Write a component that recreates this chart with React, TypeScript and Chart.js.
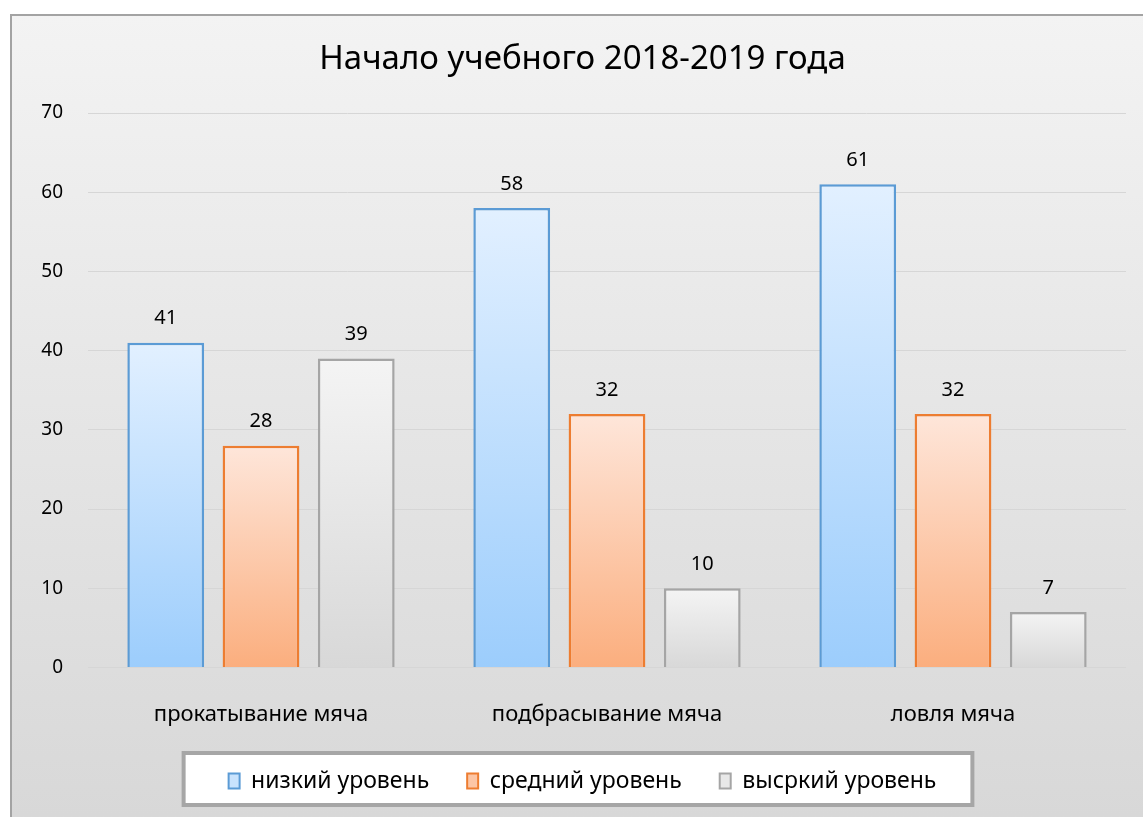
import React, { useEffect, useRef } from "react";
import { Chart, registerables } from "chart.js";

Chart.register(...registerables);

const titleText = "Начало учебного 2018-2019 года";
const categories = ["прокатывание мяча", "подбрасывание мяча", "ловля мяча"];
const seriesNames = ["низкий уровень", "средний уровень", "высркий уровень"];
const lowLevel = [41, 58, 61];
const midLevel = [28, 32, 32];
const highLevel = [39, 10, 7];
const yMin = 0;
const yMax = 70;
const yStep = 10;

const FONT = "'Noto Sans', 'Open Sans', sans-serif";

function barGradient(top: string, bottom: string, flat: string) {
  return (ctx: any) => {
    const chart = ctx.chart;
    const y = chart.scales && chart.scales.y;
    if (!y || ctx.type !== "data") return flat;
    const v = ctx.raw;
    const yTop = y.getPixelForValue(v);
    const yBase = y.getPixelForValue(0);
    if (!isFinite(yTop) || !isFinite(yBase)) return flat;
    const g = chart.ctx.createLinearGradient(0, yTop, 0, yBase);
    g.addColorStop(0, top);
    g.addColorStop(1, bottom);
    return g;
  };
}

const frameFill = {
  id: "frameFill",
  beforeDraw(chart: any) {
    const { ctx, width, height } = chart;
    ctx.save();
    ctx.fillStyle = "#ffffff";
    ctx.fillRect(0, 0, width, height);
    const g = ctx.createLinearGradient(0, 14, 0, height);
    g.addColorStop(0, "#f3f3f3");
    g.addColorStop(1, "#d8d8d8");
    ctx.fillStyle = g;
    ctx.fillRect(11, 15, width, height);
    ctx.strokeStyle = "#a3a3a3";
    ctx.lineWidth = 2;
    ctx.strokeRect(11, 15, width + 10, height + 10);
    // legend box
    const lg = chart.legend;
    if (lg && lg.legendHitBoxes && lg.legendHitBoxes.length) {
      const hb = lg.legendHitBoxes;
      let l = Infinity, r = -Infinity, t = Infinity, b = -Infinity;
      for (const h of hb) {
        l = Math.min(l, h.left);
        r = Math.max(r, h.left + h.width);
        t = Math.min(t, h.top);
        b = Math.max(b, h.top + h.height);
      }
      const cy = (t + b) / 2 - 2;
      const bl = l - 45;
      const br = r + 36;
      const hh = 26;
      ctx.fillStyle = "#ffffff";
      ctx.fillRect(bl, cy - hh, br - bl, hh * 2);
      ctx.strokeStyle = "#a6a6a6";
      ctx.lineWidth = 4;
      ctx.strokeRect(bl, cy - hh, br - bl, hh * 2);
    }
    ctx.restore();
  },
};

const valueLabels = {
  id: "valueLabels",
  afterDatasetsDraw(chart: any) {
    const { ctx } = chart;
    ctx.save();
    ctx.font = `20px ${FONT}`;
    ctx.fillStyle = "#000000";
    ctx.textAlign = "center";
    ctx.textBaseline = "middle";
    chart.data.datasets.forEach((ds: any, i: number) => {
      const meta = chart.getDatasetMeta(i);
      meta.data.forEach((el: any, j: number) => {
        ctx.fillText(String(ds.data[j]), el.x, el.y - 24);
      });
    });
    ctx.restore();
  },
};

export default function App() {
  const ref = useRef<HTMLCanvasElement | null>(null);

  useEffect(() => {
    if (!ref.current) return;
    const chart = new Chart(ref.current, {
      type: "bar",
      data: {
        labels: categories,
        datasets: [
          {
            label: seriesNames[0],
            data: lowLevel,
            backgroundColor: barGradient("#e2f0ff", "#9ccdfc", "#c4e0fc"),
            borderColor: "#5b9bd5",
            borderWidth: 2.5,
          },
          {
            label: seriesNames[1],
            data: midLevel,
            backgroundColor: barGradient("#fee6da", "#fbae7e", "#fcc8a8"),
            borderColor: "#ed7d31",
            borderWidth: 2.5,
          },
          {
            label: seriesNames[2],
            data: highLevel,
            backgroundColor: barGradient("#f4f4f4", "#d8d8d8", "#e6e6e6"),
            borderColor: "#a5a5a5",
            borderWidth: 2.5,
          },
        ],
      },
      options: {
        responsive: false,
        animation: false,
        categoryPercentage: 0.826,
        barPercentage: 0.806,
        layout: { padding: { left: 39, right: 17, top: 14, bottom: 14.5 } },
        plugins: {
          title: {
            display: true,
            text: titleText,
            color: "#000000",
            font: { family: FONT, size: 33, weight: "normal" },
            padding: { top: 26, bottom: 33.4 },
          },
          legend: {
            position: "bottom",
            labels: {
              color: "#000000",
              font: { family: FONT, size: 23 },
              boxWidth: 11,
              boxHeight: 15,
              padding: 38,
              generateLabels: (chart: any) => {
                const fills = ["#c9e3fd", "#fcc6a6", "#e8e8e8"];
                return chart.data.datasets.map((ds: any, i: number) => ({
                  text: ds.label,
                  fillStyle: fills[i],
                  strokeStyle: ds.borderColor,
                  lineWidth: 2,
                  fontColor: "#000000",
                  hidden: false,
                  datasetIndex: i,
                }));
              },
            },
          },
          tooltip: { enabled: false },
        },
        scales: {
          x: {
            grid: { display: false },
            border: { display: false },
            ticks: { color: "#000000", font: { family: FONT, size: 22 }, padding: 26 },
            afterFit: (scale: any) => {
              scale.height = 64;
            },
          },
          y: {
            min: yMin,
            max: yMax,
            ticks: { stepSize: yStep, color: "#000000", font: { family: FONT, size: 19 }, padding: 25 },
            grid: { color: "#d6d6d6", drawTicks: false, lineWidth: 1 },
            border: { display: false },
            afterFit: (scale: any) => {
              scale.width = 49;
            },
          },
        },
      },
      plugins: [frameFill, valueLabels],
    });
    return () => chart.destroy();
  }, []);

  return (
    <div style={{ position: "absolute", left: 0, top: 0, width: 1143, height: 817 }}>
      <canvas ref={ref} width={1143} height={817} />
    </div>
  );
}
